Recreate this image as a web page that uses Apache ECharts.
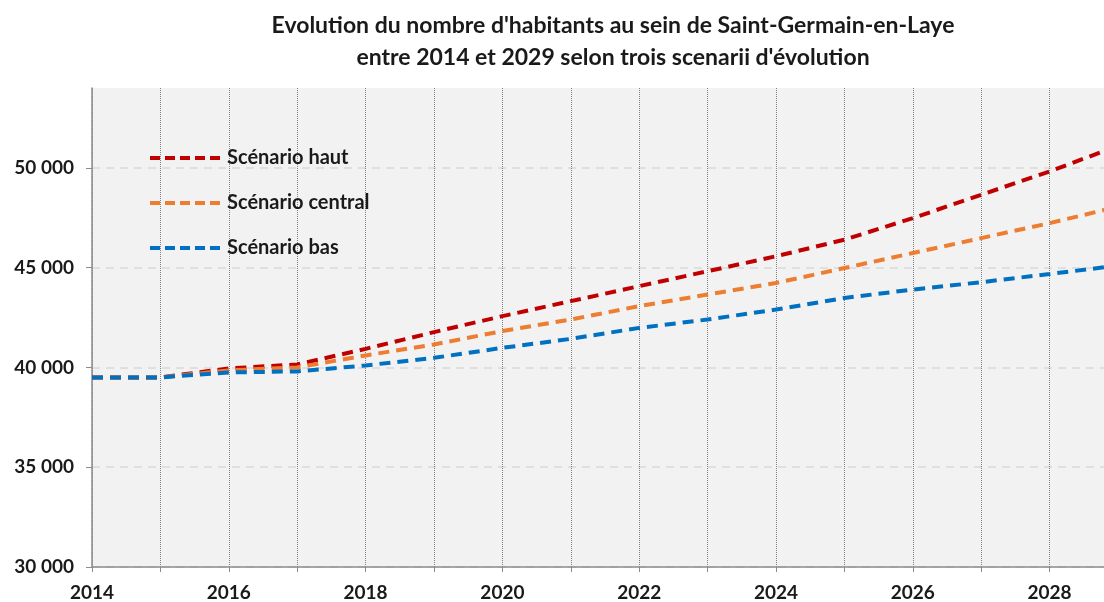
<!DOCTYPE html>
<html>
<head>
<meta charset="utf-8">
<script src="https://cdn.jsdelivr.net/npm/echarts@6/dist/echarts.min.js"></script>
<style>
  html, body { margin: 0; padding: 0; background: #fff; overflow: hidden; }
  /* the plot runs a little past the right edge of the window, as in the reference */
  #chart { width: 1121px; height: 602px; }
</style>
</head>
<body>
<div id="chart"></div>
<script>
const years = [2014, 2015, 2016, 2017, 2018, 2019, 2020, 2021, 2022, 2023, 2024, 2025, 2026, 2027, 2028, 2029];
const scenarioHaut = [39500, 39500, 39950, 40150, 40930, 41770, 42570, 43320, 44070, 44820, 45570, 46400, 47480, 48650, 49820, 51100];
const scenarioCentral = [39500, 39500, 39850, 40000, 40600, 41150, 41820, 42400, 43070, 43650, 44230, 44980, 45730, 46480, 47230, 48050];
const scenarioBas = [39500, 39500, 39750, 39800, 40100, 40480, 40980, 41430, 41980, 42400, 42900, 43480, 43900, 44270, 44680, 45100];
const seriesNames = ['Scénario haut', 'Scénario central', 'Scénario bas'];
const colors = ['#c00000', '#ed7d31', '#0070c0'];

const font = 'Lato, "Open Sans", sans-serif';
const chart = echarts.init(document.getElementById('chart'));

const makeSeries = (name, values, color) => ({
  name: name,
  type: 'line',
  symbol: 'none',
  data: years.map((y, i) => [y, values[i]]),
  lineStyle: { color: color, width: 4, type: [11, 7] },
  itemStyle: { color: color },
  z: 3
});

const option = {
  animation: false,
  backgroundColor: '#fff',
  title: {
    text: "Evolution du nombre d'habitants au sein de Saint-Germain-en-Laye\nentre 2014 et 2029 selon trois scenarii d'évolution",
    left: 608,
    textAlign: 'center',
    top: 5,
    textStyle: {
      fontFamily: font,
      fontSize: 23,
      fontWeight: 'bold',
      color: '#1a1a1a',
      lineHeight: 32
    }
  },
  legend: {
    orient: 'vertical',
    left: 143,
    top: 143,
    itemWidth: 72,
    itemHeight: 20,
    itemGap: 25,
    data: seriesNames,
    itemStyle: { opacity: 0 },
    lineStyle: { width: 4, type: [10, 5] },
    textStyle: {
      fontFamily: font,
      fontSize: 20,
      fontWeight: 'bold',
      color: '#1a1a1a'
    }
  },
  grid: {
    left: 92,
    right: 0,
    top: 88,
    bottom: 34,
    show: true,
    backgroundColor: '#f2f2f2',
    borderWidth: 0
  },
  xAxis: {
    type: 'value',
    min: 2014,
    max: 2029,
    interval: 1,
    axisLine: { lineStyle: { color: '#8c8c8c', width: 1.5 } },
    axisTick: { show: true, length: 5, lineStyle: { color: '#8c8c8c' } },
    axisLabel: {
      margin: 16,
      fontFamily: font,
      fontSize: 19,
      fontWeight: 'bold',
      color: '#1a1a1a',
      formatter: v => (v % 2 === 0 && v < 2029 ? String(v) : '')
    },
    splitLine: {
      show: true,
      lineStyle: { color: '#808080', width: 1, type: [1, 1] }
    }
  },
  yAxis: {
    type: 'value',
    min: 30000,
    max: 54000,
    interval: 5000,
    axisLine: { show: true, lineStyle: { color: '#8c8c8c', width: 1.5 } },
    axisTick: { show: true, length: 6, lineStyle: { color: '#8c8c8c' } },
    axisLabel: {
      margin: 18,
      fontFamily: font,
      fontSize: 19,
      fontWeight: 'bold',
      color: '#1a1a1a',
      showMaxLabel: false,
      formatter: v => (v % 5000 === 0 ? String(v).replace(/\B(?=(\d{3})+(?!\d))/g, ' ') : '')
    },
    splitLine: {
      show: true,
      lineStyle: {
        color: ['#d9d9d9', '#d9d9d9', '#d9d9d9', '#d9d9d9', '#d9d9d9', 'rgba(0,0,0,0)'],
        width: 1.5,
        type: [8, 6]
      }
    }
  },
  series: [
    makeSeries(seriesNames[0], scenarioHaut, colors[0]),
    makeSeries(seriesNames[1], scenarioCentral, colors[1]),
    makeSeries(seriesNames[2], scenarioBas, colors[2])
  ]
};

chart.setOption(option);
</script>
</body>
</html>
